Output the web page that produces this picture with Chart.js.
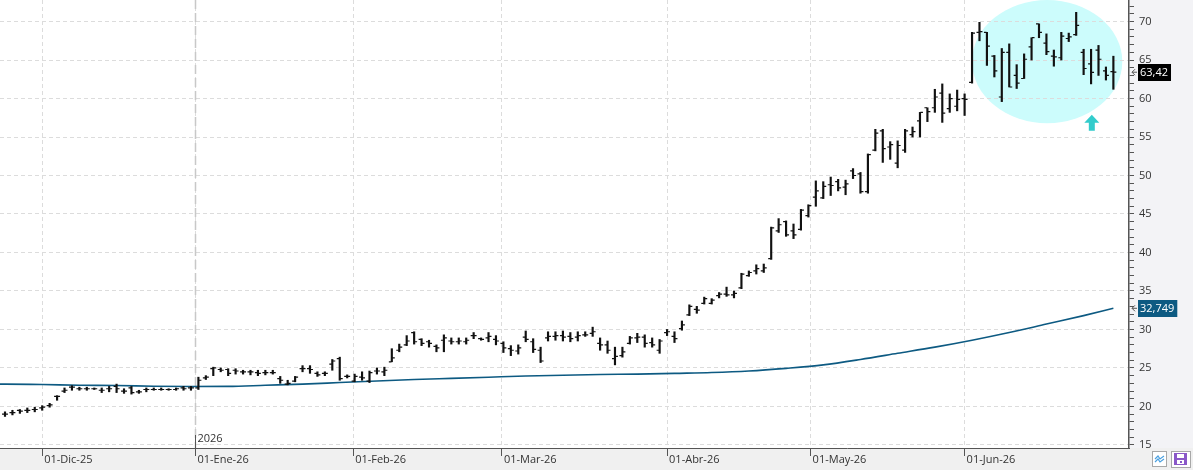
<!DOCTYPE html>
<html>
<head>
<meta charset="utf-8">
<script src="https://cdn.jsdelivr.net/npm/chart.js@4.4.0/dist/chart.umd.min.js"></script>
<style>
  html, body { margin: 0; padding: 0; background: #fff; overflow: hidden; }
</style>
</head>
<body>
<canvas id="myChart" width="1193" height="470"></canvas>
<script>
// daily bars, index 0 = 24-Nov-25 ... 149 = last session
var highs = [19.3,19.5,19.6,19.8,19.9,20.1,20.4,21.4,22.4,22.7,
  22.5,22.5,22.4,22.4,22.6,22.9,22.3,22.6,22.1,22.4,
  22.4,22.4,22.3,22.4,22.6,22.6,23.8,24.0,25.1,25.0,
  24.9,24.9,24.7,24.7,24.7,24.7,24.7,23.9,23.4,23.9,
  25.3,25.3,24.5,24.5,26.1,26.4,24.1,24.2,24.5,24.6,
  25.0,25.1,27.5,28.1,29.2,29.7,28.8,28.6,28.0,29.3,
  28.9,28.9,28.9,29.6,28.9,29.6,29.2,28.4,27.9,28.0,
  29.8,28.8,27.7,29.7,29.7,29.8,29.6,29.7,29.7,30.3,
  28.9,28.5,27.7,27.7,29.1,29.5,29.3,28.9,28.7,30.0,
  29.7,31.1,33.2,33.0,34.2,34.0,34.8,35.5,35.0,37.3,
  37.6,38.4,38.5,43.3,44.4,44.1,43.7,45.6,46.2,49.3,
  49.2,49.8,49.5,49.4,50.9,50.4,52.8,56.0,56.0,54.4,
  54.5,56.0,56.3,58.2,58.8,61.2,61.9,60.6,61.1,60.6,
  68.6,69.9,68.6,65.6,66.5,67.1,64.4,65.8,67.9,69.7,
  68.4,66.3,68.6,68.5,71.2,66.4,66.4,66.9,64.1,65.5];
var lows = [18.7,18.9,19.1,19.2,19.3,19.5,19.9,20.8,21.8,22.1,
  22.1,22.1,22.2,21.8,21.9,21.8,21.7,21.6,21.7,21.9,
  22.1,22.1,22.1,22.1,22.1,22.1,22.2,23.5,24.0,24.5,
  24.0,24.2,24.2,24.1,24.0,24.1,24.2,23.0,22.8,23.2,
  24.5,24.3,23.9,24.0,24.7,23.4,23.7,23.2,23.4,23.1,
  24.2,24.0,25.8,27.1,27.9,28.1,27.9,27.7,27.1,27.1,
  28.1,28.1,28.1,28.8,28.6,28.4,28.0,27.0,26.6,26.8,
  28.4,27.0,25.7,28.5,28.6,28.5,28.4,28.5,29.1,29.1,
  27.3,26.9,25.4,26.4,28.1,28.3,27.7,27.7,26.9,29.2,
  28.3,29.9,31.8,32.1,33.3,33.3,34.1,34.3,34.1,35.3,
  36.9,37.2,37.4,39.1,42.6,42.1,41.8,42.9,44.6,46.0,
  47.0,47.4,48.0,47.5,49.6,47.7,47.7,53.2,51.7,52.1,
  51.0,53.0,55.0,55.0,57.0,58.2,56.9,58.2,58.4,57.8,
  62.0,67.5,64.3,62.8,59.6,61.5,61.3,62.6,65.0,67.9,
  65.7,64.2,65.0,67.4,68.2,63.1,61.9,63.0,62.4,61.2];
var opens = [19.0,19.2,19.5,19.5,19.6,19.8,20.1,21.3,22.0,22.5,
  22.3,22.3,22.3,22.1,22.3,22.6,22.0,22.4,21.9,22.2,
  22.2,22.2,22.2,22.2,22.4,22.4,22.4,23.7,24.9,24.8,
  24.8,24.7,24.5,24.5,24.4,24.4,24.4,23.6,22.9,23.3,
  24.9,24.9,24.3,24.3,25.5,26.2,23.9,23.3,23.8,23.3,
  24.6,24.5,25.8,27.3,28.0,29.6,28.7,28.4,27.8,28.6,
  28.5,28.4,28.4,29.2,28.8,28.9,28.7,28.2,27.5,27.2,
  29.0,28.4,27.3,28.9,29.1,29.2,29.1,29.0,29.3,29.5,
  28.2,28.0,26.2,26.6,28.2,28.9,29.0,28.3,27.3,29.6,
  29.1,30.1,31.9,32.6,33.4,33.4,34.4,34.6,34.5,35.4,
  37.0,37.6,37.6,39.2,42.8,44.0,42.8,43.0,44.8,47.2,
  47.1,48.8,49.2,48.5,50.6,50.2,47.9,53.3,55.8,53.7,
  51.6,53.3,55.3,57.1,58.8,58.8,60.7,58.7,59.0,60.0,
  62.1,68.6,68.6,65.5,60.2,66.0,63.0,62.6,66.7,69.7,
  67.2,65.5,65.3,67.8,68.3,66.0,64.5,66.3,63.6,63.5];
var closes = [19.0,19.2,19.4,19.5,19.6,19.9,20.2,21.3,22.1,22.5,
  22.3,22.3,22.3,22.1,22.3,22.3,22.0,21.8,21.9,22.2,
  22.2,22.2,22.2,22.3,22.3,22.4,23.4,23.8,25.0,24.7,
  24.3,24.6,24.5,24.5,24.3,24.4,24.4,23.4,23.0,23.8,
  24.9,24.8,24.1,24.3,25.9,23.6,23.9,23.9,23.7,24.4,
  24.6,24.7,26.3,27.7,28.5,28.4,28.2,28.2,27.6,28.9,
  28.4,28.5,28.6,29.2,28.7,29.1,28.5,27.6,27.3,27.6,
  28.7,27.4,25.9,29.1,29.2,29.0,28.8,29.2,29.3,29.7,
  28.0,27.3,26.5,27.1,28.9,29.0,28.2,28.0,28.5,29.7,
  28.8,30.6,33.0,32.5,34.0,33.8,34.6,34.5,34.7,37.2,
  37.4,37.9,38.0,43.2,43.6,42.3,42.3,45.5,46.1,48.0,
  48.6,48.7,48.4,48.9,50.0,47.9,52.7,55.5,53.5,54.0,
  53.9,55.8,55.7,58.2,58.3,60.2,58.1,60.0,59.9,59.9,
  68.5,68.7,66.8,63.6,66.0,61.5,62.0,65.1,67.9,68.6,
  66.1,65.4,68.1,68.0,69.5,63.9,63.4,65.1,63.0,63.42];

// long moving average, read at a few bar positions
var maIdx  = [-1, 0, 5, 10, 15, 20, 25, 30, 35, 40, 45, 50, 55, 60, 65, 70, 75, 80, 85, 90, 95, 100, 105, 110, 115, 120, 125, 130, 135, 140, 145, 149];
var maVals = [22.9, 22.9, 22.85, 22.75, 22.72, 22.62, 22.58, 22.6, 22.75, 22.9, 23.1, 23.3, 23.5, 23.65, 23.8, 23.95, 24.05, 24.15, 24.2, 24.3, 24.4, 24.6, 24.95, 25.4, 26.1, 26.9, 27.7, 28.6, 29.6, 30.7, 31.8, 32.749];

var monthPos    = [5, 25.6, 46.8, 66.8, 89, 108.3, 129];
var monthLabels = ['01-Dic-25', '01-Ene-26', '01-Feb-26', '01-Mar-26', '01-Abr-26', '01-May-26', '01-Jun-26'];
var priceLabels = [15, 20, 25, 30, 35, 40, 45, 50, 55, 60, 65, 70];
var yearMark = 25.6;

var lastPrice = 63.42, lastPriceText = '63,42';
var lastMa = 32.749, lastMaText = '32,749';

// highlight ellipse + arrow, in data units
var circleCenter = [140.1, 64.8];
var circleRadius = [10.1, 8.0];
var arrowAt = [146.1, 57.9, 55.8];

var barsHL = highs.map(function (h, i) { return { x: i, y: [lows[i], h] }; });
// open tick to the left, close tick to the right, broken with a gap after each
var openTicks = [], closeTicks = [];
opens.forEach(function (v, i) {
  openTicks.push({ x: i - 0.4, y: v }, { x: i - 0.05, y: v }, { x: i, y: null });
});
closes.forEach(function (v, i) {
  closeTicks.push({ x: i + 0.05, y: v }, { x: i + 0.4, y: v }, { x: i + 0.5, y: null });
});
var maLine = maIdx.map(function (v, i) { return { x: v, y: maVals[i] }; });

var minorTicks = [];
for (var t = 15; t <= 72; t++) minorTicks.push({ value: t });

Chart.defaults.font.family = '"Open Sans", "Noto Sans", sans-serif';
Chart.defaults.font.size = 11;
Chart.defaults.color = '#333';

var decor = {
  id: 'decor',
  beforeDraw: function (chart) {
    var ctx = chart.ctx, a = chart.chartArea, x = chart.scales.x, y = chart.scales.y;
    ctx.save();
    ctx.fillStyle = '#ffffff';
    ctx.fillRect(0, 0, chart.width, chart.height);
    ctx.fillStyle = '#f3f3f6';
    ctx.fillRect(a.right, 0, chart.width - a.right, chart.height);
    ctx.fillStyle = '#f0f0f0';
    ctx.fillRect(0, a.bottom, chart.width, chart.height - a.bottom);
    // cyan highlight
    ctx.beginPath();
    ctx.rect(0, 0, a.right, a.bottom);
    ctx.clip();
    var cx = x.getPixelForValue(circleCenter[0]);
    var cy = y.getPixelForValue(circleCenter[1]);
    var rx = x.getPixelForValue(circleCenter[0] + circleRadius[0]) - cx;
    var ry = cy - y.getPixelForValue(circleCenter[1] + circleRadius[1]);
    ctx.beginPath();
    ctx.ellipse(cx, cy, rx, ry, 0, 0, Math.PI * 2);
    ctx.fillStyle = '#ccfcfc';
    ctx.fill();
    ctx.restore();
  },
  beforeDatasetsDraw: function (chart) {
    var ctx = chart.ctx, a = chart.chartArea, x = chart.scales.x;
    var jx = Math.round(x.getPixelForValue(yearMark)) + 0.5;
    ctx.save();
    ctx.strokeStyle = '#c8c8c8';
    ctx.lineWidth = 1.5;
    ctx.setLineDash([9, 4]);
    ctx.beginPath();
    ctx.moveTo(jx, 0);
    ctx.lineTo(jx, a.bottom);
    ctx.stroke();
    ctx.setLineDash([]);
    ctx.strokeStyle = '#555';
    ctx.lineWidth = 1;
    ctx.beginPath();
    ctx.moveTo(jx, a.bottom - 13);
    ctx.lineTo(jx, a.bottom);
    ctx.stroke();
    ctx.fillStyle = '#333';
    ctx.font = '11px "Open Sans", "Noto Sans", sans-serif';
    ctx.textBaseline = 'middle';
    ctx.fillText('2026', jx + 2, a.bottom - 9);
    ctx.restore();
  },
  afterDatasetsDraw: function (chart) {
    var ctx = chart.ctx, x = chart.scales.x, y = chart.scales.y;
    var ax = x.getPixelForValue(arrowAt[0]);
    var tip = y.getPixelForValue(arrowAt[1]);
    var base = y.getPixelForValue(arrowAt[2]);
    ctx.save();
    ctx.fillStyle = '#33cccc';
    ctx.beginPath();
    ctx.moveTo(ax, tip);
    ctx.lineTo(ax + 7.5, tip + 8);
    ctx.lineTo(ax + 3, tip + 8);
    ctx.lineTo(ax + 3, base);
    ctx.lineTo(ax - 3, base);
    ctx.lineTo(ax - 3, tip + 8);
    ctx.lineTo(ax - 7.5, tip + 8);
    ctx.closePath();
    ctx.fill();
    ctx.restore();
  },
  afterDraw: function (chart) {
    var ctx = chart.ctx, a = chart.chartArea, y = chart.scales.y;
    ctx.save();
    ctx.font = '11px "Open Sans", "Noto Sans", sans-serif';
    ctx.textBaseline = 'middle';
    function tag(val, text, bg) {
      var py = y.getPixelForValue(val);
      var w = ctx.measureText(text).width + 5;
      ctx.fillStyle = bg;
      ctx.fillRect(a.right + 9, Math.round(py) - 8, w, 17);
      ctx.fillStyle = '#fff';
      ctx.fillText(text, a.right + 11, py + 0.5);
      ctx.strokeStyle = '#555';
      ctx.lineWidth = 1;
      ctx.beginPath();
      ctx.moveTo(a.right + 6, py - 3);
      ctx.lineTo(a.right + 3, py);
      ctx.lineTo(a.right + 6, py + 3);
      ctx.moveTo(a.right + 3, py);
      ctx.lineTo(a.right + 8, py);
      ctx.stroke();
    }
    tag(lastPrice, lastPriceText, '#000000');
    tag(lastMa, lastMaText, '#0d5a82');

    // little toolbar buttons bottom right
    var bx = chart.width - 41, by = a.bottom + 3;
    ctx.fillStyle = '#fff';
    ctx.fillRect(bx, by, 14, 15);
    ctx.strokeStyle = '#a8a8a8';
    ctx.strokeRect(bx + 0.5, by + 0.5, 14, 15);
    ctx.strokeStyle = '#4aa0e0';
    ctx.lineWidth = 1.2;
    ctx.beginPath();
    ctx.moveTo(bx + 3, by + 8); ctx.lineTo(bx + 6, by + 5); ctx.lineTo(bx + 8, by + 8); ctx.lineTo(bx + 12, by + 5);
    ctx.moveTo(bx + 3, by + 11); ctx.lineTo(bx + 6, by + 8); ctx.lineTo(bx + 8, by + 11); ctx.lineTo(bx + 12, by + 8);
    ctx.stroke();
    var fx = chart.width - 22;
    ctx.fillStyle = '#fff';
    ctx.fillRect(fx, by, 19, 16);
    ctx.strokeStyle = '#a8a8a8';
    ctx.lineWidth = 1;
    ctx.strokeRect(fx + 0.5, by + 0.5, 19, 16);
    ctx.fillStyle = '#8a58c8';
    ctx.fillRect(fx + 3, by + 2, 13, 12);
    ctx.fillStyle = '#fff';
    ctx.fillRect(fx + 6, by + 3, 7, 4);
    ctx.fillRect(fx + 6, by + 9, 7, 4);
    ctx.fillStyle = '#8a58c8';
    ctx.fillRect(fx + 9, by + 10, 2, 2);
    ctx.restore();
  }
};

var ctx = document.getElementById('myChart').getContext('2d');
var myChart = new Chart(ctx, {
  type: 'scatter',
  data: {
    datasets: [{
      type: 'line',
      data: maLine,
      borderColor: '#0d5a82',
      borderWidth: 1.6,
      pointRadius: 0,
      pointHoverRadius: 0,
      pointHoverBorderWidth: 0,
      cubicInterpolationMode: 'monotone',
      fill: false,
      order: 3
    }, {
      type: 'bar',
      data: barsHL,
      backgroundColor: '#111',
      borderWidth: 0,
      borderSkipped: false,
      barThickness: 1.5,
      order: 2
    }, {
      type: 'line',
      data: openTicks,
      borderColor: '#111',
      borderWidth: 1.2,
      pointRadius: 0,
      pointHoverRadius: 0,
      pointHoverBorderWidth: 0,
      spanGaps: false,
      fill: false,
      order: 1
    }, {
      type: 'line',
      data: closeTicks,
      borderColor: '#111',
      borderWidth: 1.2,
      pointRadius: 0,
      pointHoverRadius: 0,
      pointHoverBorderWidth: 0,
      spanGaps: false,
      fill: false,
      order: 1
    }]
  },
  options: {
    responsive: false,
    animation: false,
    devicePixelRatio: 1,
    layout: { padding: 0 },
    events: [],
    plugins: {
      legend: { display: false },
      tooltip: { enabled: false }
    },
    scales: {
      x: {
        type: 'linear',
        min: -0.672,
        max: 151.1,
        offset: false,
        afterBuildTicks: function (s) { s.ticks = monthPos.map(function (v) { return { value: v }; }); },
        afterFit: function (s) { s.height = 22; s.paddingLeft = 0; s.paddingRight = 0; },
        ticks: {
          autoSkip: false,
          maxRotation: 0,
          align: 'start',
          labelOffset: 2,
          padding: -3,
          color: '#333',
          callback: function (v, i) { return monthLabels[i]; }
        },
        grid: { color: '#dcdcdc', tickColor: '#555', tickLength: 8, offset: false },
        border: { color: '#555', width: 1, dash: [4, 3] }
      },
      y: {
        type: 'linear',
        position: 'right',
        min: 14.6,
        max: 72.8,
        afterBuildTicks: function (s) { s.ticks = minorTicks.slice(); },
        afterFit: function (s) { s.width = 64; s.paddingTop = 0; s.paddingBottom = 0; },
        ticks: {
          autoSkip: false,
          padding: 5,
          color: '#333',
          callback: function (v) { return priceLabels.indexOf(v) >= 0 ? String(v) : ''; }
        },
        grid: {
          color: function (c) { return c.tick && priceLabels.indexOf(c.tick.value) >= 0 ? '#dcdcdc' : 'rgba(0,0,0,0)'; },
          tickColor: '#555',
          tickLength: 5
        },
        border: { color: '#555', width: 1.5, dash: [4, 3] }
      }
    }
  },
  plugins: [decor]
});
</script>
</body>
</html>
